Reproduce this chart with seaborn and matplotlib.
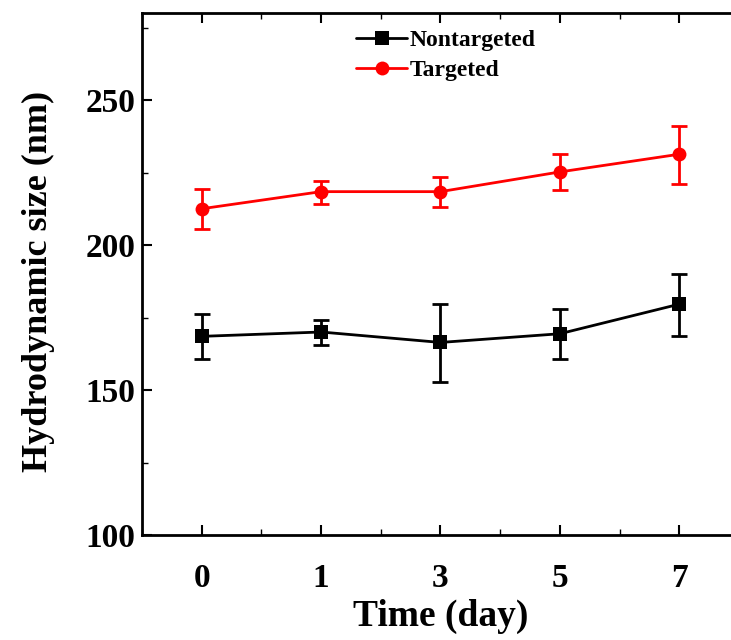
import matplotlib
matplotlib.use("Agg")
import matplotlib.pyplot as plt
import seaborn as sns
import pandas as pd
import numpy as np
from matplotlib.ticker import MultipleLocator

days = ["0", "1", "3", "5", "7"]
nontargeted = [168.5, 170.0, 166.4, 169.4, 179.6]
nontargeted_lo = [160.8, 165.5, 152.9, 160.8, 168.6]
nontargeted_hi = [176.2, 174.2, 179.5, 177.9, 190.0]
targeted = [212.5, 218.4, 218.4, 225.2, 231.3]
targeted_lo = [205.4, 214.2, 213.0, 219.1, 221.2]
targeted_hi = [219.3, 222.2, 223.6, 231.3, 241.2]

sns.set_style("ticks")
plt.rcParams['font.family'] = ['Liberation Serif', 'DejaVu Serif']
plt.rcParams['font.weight'] = 'bold'
for k in ["text.color", "axes.labelcolor", "xtick.color", "ytick.color", "axes.edgecolor"]:
    plt.rcParams[k] = "black"

pos = list(range(len(days)))
df = pd.DataFrame({
    "pos": pos * 2,
    "size": nontargeted + targeted,
    "group": ["Nontargeted"] * len(days) + ["Targeted"] * len(days),
})

fig = plt.figure(figsize=(7.31, 6.40), dpi=100)
ax = fig.add_axes([142 / 731, 1 - 535 / 640, 597 / 731, (535 - 13) / 640])

sns.lineplot(data=df, x="pos", y="size", hue="group", style="group",
             palette={"Nontargeted": "black", "Targeted": "red"},
             markers={"Nontargeted": "s", "Targeted": "o"}, dashes=False,
             markersize=10, linewidth=2, markeredgewidth=0, ax=ax, zorder=3)

for vals, lo, hi, c in [(nontargeted, nontargeted_lo, nontargeted_hi, "black"),
                        (targeted, targeted_lo, targeted_hi, "red")]:
    v = np.array(vals)
    yerr = np.vstack([v - np.array(lo), np.array(hi) - v])
    ax.errorbar(pos, v, yerr=yerr, fmt="none", ecolor=c, elinewidth=2,
                capsize=6, capthick=2, zorder=2)

ax.set_xlim(-0.5, 4.5)
ax.set_ylim(100, 280)
ax.set_xticks(pos)
ax.set_xticklabels(days)
ax.xaxis.set_minor_locator(MultipleLocator(0.5))
ax.set_yticks([100, 150, 200, 250])
ax.yaxis.set_minor_locator(MultipleLocator(25))

for s in ["left", "bottom", "top"]:
    ax.spines[s].set_linewidth(2)
    ax.spines[s].set_color("black")
ax.spines["right"].set_visible(False)

ax.tick_params(axis="both", which="major", direction="in", length=7, width=1.5,
               labelsize=24, colors="black")
ax.tick_params(axis="both", which="minor", direction="in", length=4, width=1,
               colors="black")
ax.tick_params(axis="x", which="both", top=True, pad=20)
ax.tick_params(axis="y", which="both", right=False, pad=5)
for lab in ax.get_xticklabels() + ax.get_yticklabels():
    lab.set_fontweight("bold")

ax.set_xlabel("Time (day)", fontsize=27, fontweight="bold", labelpad=4, color="black")
ax.set_ylabel("Hydrodynamic size (nm)", fontsize=26, fontweight="bold", color="black")
ax.yaxis.set_label_coords(-0.145, 0.485)

leg = ax.legend(loc="upper left", bbox_to_anchor=(0.33, 1.0), frameon=False,
                prop={"family": "Liberation Serif", "weight": "bold", "size": 17},
                handlelength=2.2, handletextpad=0.1, labelspacing=0.35,
                borderaxespad=0.3)
for t in leg.get_texts():
    t.set_color("black")

fig.savefig("out.png", dpi=100)
